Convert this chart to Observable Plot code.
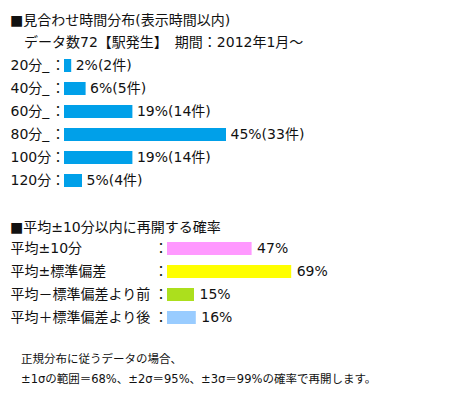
<!DOCTYPE html>
<html><head><meta charset="utf-8">
<script src="https://cdn.jsdelivr.net/npm/d3@7"></script>
<script src="https://cdn.jsdelivr.net/npm/@observablehq/plot@0.6"></script>
<style>
html,body{margin:0;padding:0;background:#fff;}
#root{position:relative;width:449px;height:396px;overflow:hidden;font-family:'DejaVu Sans','Noto Sans CJK JP',sans-serif;color:#111;}
.t{position:absolute;left:10px;font-size:14px;line-height:20px;white-space:pre;}
.n{position:absolute;left:21px;font-size:11.5px;line-height:20px;white-space:pre;}
.p{position:absolute;left:0;}
</style></head>
<body><div id="root"></div>
<script>
const title1 = "■見合わせ時間分布(表示時間以内)";
const subtitle1 = "　データ数72【駅発生】　期間：2012年1月～";
const durationLabels = ["20分_", "40分_", "60分_", "80分_", "100分", "120分"];
const durationPct = [2, 6, 19, 45, 19, 5];
const durationCount = [2, 5, 14, 33, 14, 4];
const title2 = "■平均±10分以内に再開する確率";
const probLabels = ["平均±10分", "平均±標準偏差", "平均－標準偏差より前", "平均＋標準偏差より後"];
const probPct = [47, 69, 15, 16];
const probColors = ["#ff99ff", "#ffff00", "#acdf1d", "#99ccff"];
const note1 = "正規分布に従うデータの場合、";
const note2 = "±1σの範囲＝68%、±2σ＝95%、±3σ＝99%の確率で再開します。";

const root = document.getElementById("root");
function addText(cls, top, txt){const d=document.createElement("div");d.className=cls;d.style.top=top+"px";d.textContent=txt;root.appendChild(d);}
addText("t", 10, title1);
addText("t", 32, subtitle1);
addText("t", 217, title2);
addText("n", 349, note1);
addText("n", 369, note2);

const ff = "'DejaVu Sans','Noto Sans CJK JP',sans-serif";
const font = {fontFamily:ff, fontSize:"14px", background:"transparent", color:"#111"};

const dur = durationLabels.map((l,i)=>({label:l, pct:durationPct[i], count:durationCount[i]}));
const p1 = Plot.plot({
  width:449, height:139, margin:0, style:font,
  x:{domain:[0,100], range:[64,424], axis:null},
  y:{domain:durationLabels, range:[0,139], paddingInner:0.45, paddingOuter:0.225, axis:null},
  marks:[
    Plot.barX(dur,{x:"pct", y:"label", fill:"#00a0e9"}),
    Plot.text(dur,{y:"label", text:"label", frameAnchor:"left", dx:10, textAnchor:"start", fontSize:14, fill:"#111"}),
    Plot.text(dur,{x:0, y:"label", text:()=>"：", dx:-6.5, textAnchor:"middle", fontSize:14, fill:"#111"}),
    Plot.text(dur,{x:"pct", y:"label", text:d=>`${d.pct}%(${d.count}件)`, dx:4, textAnchor:"start", fontSize:14, fill:"#111"})
  ]
});
p1.classList.add("p"); p1.style.top="53px"; root.appendChild(p1);

const prob = probLabels.map((l,i)=>({label:l, pct:probPct[i], color:probColors[i]}));
const p2 = Plot.plot({
  width:449, height:92, margin:0, style:font,
  x:{domain:[0,100], range:[167,347], axis:null},
  y:{domain:probLabels, range:[0,92], paddingInner:0.45, paddingOuter:0.225, axis:null},
  color:{domain:probLabels, range:probColors},
  marks:[
    Plot.barX(prob,{x:"pct", y:"label", fill:"label"}),
    Plot.text(prob,{y:"label", text:"label", frameAnchor:"left", dx:10, textAnchor:"start", fontSize:14, fill:"#111"}),
    Plot.text(prob,{x:0, y:"label", text:()=>"：", dx:-6.5, textAnchor:"middle", fontSize:14, fill:"#111"}),
    Plot.text(prob,{x:"pct", y:"label", text:d=>`${d.pct}%`, dx:5, textAnchor:"start", fontSize:14, fill:"#111"})
  ]
});
p2.classList.add("p"); p2.style.top="237px"; root.appendChild(p2);
</script></body></html>
